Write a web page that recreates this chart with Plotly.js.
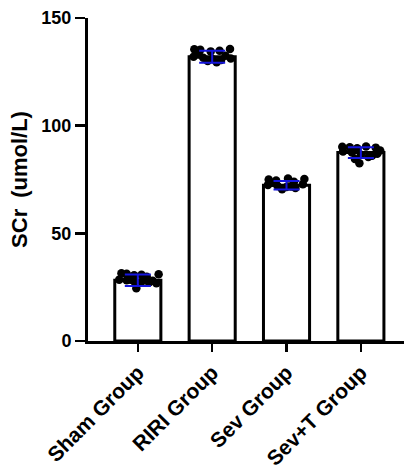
<!DOCTYPE html>
<html>
<head>
<meta charset="utf-8">
<script src="https://cdn.plot.ly/plotly-3.0.1.min.js"></script>
<style>html,body{margin:0;padding:0;background:#fff;}#chart{width:405px;height:468px;}</style>
</head>
<body>
<div id="chart"></div>
<script>
const categories = ['Sham Group', 'RIRI Group', 'Sev Group', 'Sev+T Group'];
const means = [28.2, 132, 72.3, 87.5];
const sds = [2.7, 2.8, 2.0, 2.5];

const shamValues = [31.5, 31.2, 30.5, 30.8, 29.8, 28.5, 28.2, 27.8, 27.5, 27.2, 26.8, 28.0, 24.5, 28.4, 31.0];
const shamJitter = [-0.22, -0.15, -0.05, 0.05, 0.12, -0.25, -0.15, -0.05, 0.05, 0.15, 0.25, 0.2, -0.02, -0.1, 0.28];
const ririValues = [135.5, 135.2, 134.5, 134.8, 135.6, 132, 131.5, 131.0, 130.5, 131.2, 130.0, 129.5, 132.5, 133.0];
const ririJitter = [-0.24, -0.16, -0.02, 0.1, 0.24, -0.25, -0.12, 0.0, 0.12, 0.25, -0.06, 0.06, 0.18, -0.18];
const sevValues = [75.0, 74.5, 75.5, 74.0, 75.2, 72.5, 72.0, 71.5, 71.0, 70.5, 72.8, 71.8, 73.5];
const sevJitter = [-0.24, -0.14, 0.02, 0.1, 0.24, -0.25, -0.12, 0.0, 0.12, -0.06, 0.22, 0.06, -0.18];
const sevtValues = [90.2, 90.0, 89.5, 90.3, 89.8, 88.0, 87.5, 86.5, 85.5, 84.5, 82.5, 87.0, 88.5, 86.0];
const sevtJitter = [-0.25, -0.15, -0.05, 0.07, 0.2, -0.24, -0.12, 0.0, 0.1, -0.08, -0.02, 0.22, 0.26, 0.15];

const groupValues = [shamValues, ririValues, sevValues, sevtValues];
const groupJitter = [shamJitter, ririJitter, sevJitter, sevtJitter];
const idx = categories.map((c, i) => i);

const traces = [{
  type: 'bar',
  x: idx,
  y: means,
  width: 0.62,
  marker: {color: '#ffffff', line: {color: '#000000', width: 3}},
  hoverinfo: 'skip'
}];

groupValues.forEach((vals, g) => {
  traces.push({
    type: 'scatter',
    mode: 'markers',
    x: vals.map((v, k) => g + groupJitter[g][k]),
    y: vals,
    marker: {color: '#000000', size: 8.5},
    hoverinfo: 'skip'
  });
});

traces.push({
  type: 'scatter',
  mode: 'markers',
  x: idx,
  y: means,
  marker: {size: 0.1, color: 'rgba(0,0,0,0)'},
  error_y: {type: 'data', array: sds, visible: true, color: '#1515dd', thickness: 2, width: 13},
  hoverinfo: 'skip'
});

const fam = 'Arial, "Liberation Sans", sans-serif';

const layout = {
  width: 405,
  height: 468,
  margin: {l: 88, r: 1, t: 18, b: 127},
  showlegend: false,
  plot_bgcolor: '#fff',
  paper_bgcolor: '#fff',
  font: {family: fam, color: '#000'},
  xaxis: {
    type: 'linear',
    range: [-0.67, 3.58],
    tickmode: 'array',
    tickvals: idx,
    ticktext: categories.map(c => '<b>' + c + '</b>'),
    tickangle: -45,
    ticks: 'outside',
    ticklen: 8,
    tickwidth: 2.5,
    tickcolor: '#000',
    showline: true,
    linecolor: '#000',
    linewidth: 3,
    showgrid: false,
    zeroline: false,
    tickfont: {family: fam, size: 21, color: '#000'}
  },
  yaxis: {
    range: [0, 150],
    tickmode: 'array',
    tickvals: [0, 50, 100, 150],
    ticktext: ['<b>0</b>', '<b>50</b>', '<b>100</b>', '<b>150</b>'],
    ticks: 'outside',
    ticklen: 10,
    tickwidth: 2.5,
    tickcolor: '#000',
    showline: true,
    linecolor: '#000',
    linewidth: 3,
    showgrid: false,
    zeroline: false,
    tickfont: {family: fam, size: 18, color: '#000'},
    title: {text: '<b>SCr\u2002(umol/L)</b>', font: {family: fam, size: 22, color: '#000'}, standoff: 8}
  }
};

Plotly.newPlot('chart', traces, layout, {displayModeBar: false, staticPlot: true});
</script>
</body>
</html>
